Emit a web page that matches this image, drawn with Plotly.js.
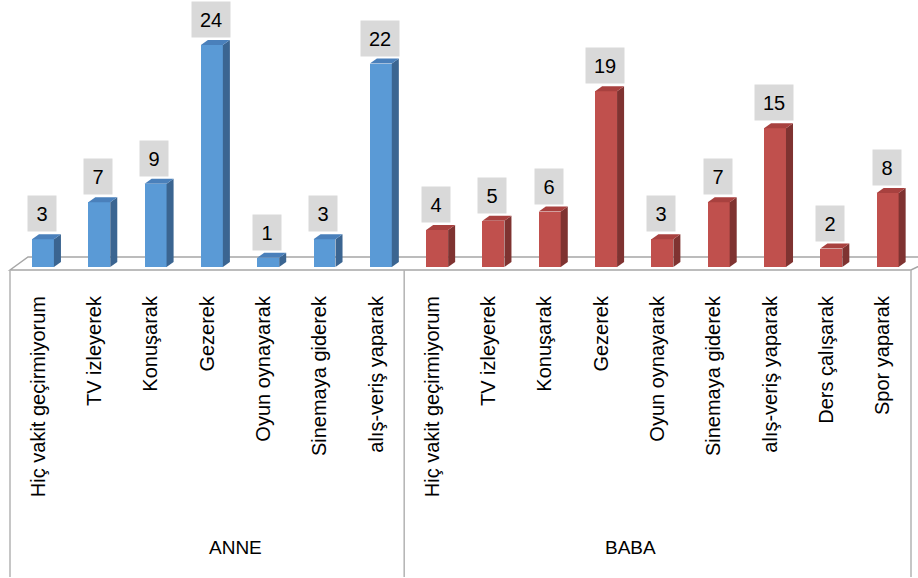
<!DOCTYPE html>
<html>
<head>
<meta charset="utf-8">
<script src="https://cdn.plot.ly/plotly-3.0.1.min.js"></script>
<style>html,body{margin:0;padding:0;background:#fff;}#chart{width:918px;height:578px;}</style>
</head>
<body>
<div id="chart"></div>
<script>
// ---- data ----
const groups = ['ANNE', 'BABA'];
const anneCats = ['Hiç vakit geçirmiyorum', 'TV izleyerek', 'Konuşarak', 'Gezerek', 'Oyun oynayarak', 'Sinemaya giderek', 'alış-veriş yaparak'];
const anneVals = [3, 7, 9, 24, 1, 3, 22];
const babaCats = ['Hiç vakit geçirmiyorum', 'TV izleyerek', 'Konuşarak', 'Gezerek', 'Oyun oynayarak', 'Sinemaya giderek', 'alış-veriş yaparak', 'Ders çalışarak', 'Spor yaparak'];
const babaVals = [4, 5, 6, 19, 3, 7, 15, 2, 8];

// ---- styling ----
const W = 918, H = 578;
const plotH = 267;               // floor line in px from top
const yMax = plotH / 9.25;
const barW = 0.39, barOff = -0.11;
const dx = 0.125, dy = 5 / 9.25;  // 3D depth in data units
const FONT = 'Liberation Sans, Arial, sans-serif';
const colors = {
  ANNE: {front: '#5a9ad6', top: '#4a80bb', side: '#3b6591'},
  BABA: {front: '#c0504d', top: '#a8413f', side: '#7f3331'}
};

const series = [
  {name: groups[0], cats: anneCats, vals: anneVals},
  {name: groups[1], cats: babaCats, vals: babaVals}
];

const traces = [];
const shapes = [];
const annotations = [];
const tickvals = [], ticktext = [];
let idx = 0;
const groupBounds = [];
const pyp = px => (plotH - px) / plotH; // px-from-top -> paper y

// floor
shapes.push({
  type: 'path', xref: 'paper', yref: 'paper', layer: 'below',
  path: `M 0,${pyp(270)} L ${18/901},${pyp(257)} L 1.03,${pyp(257)} L 1.0,${pyp(270)} Z`,
  line: {color: '#a6a6a6', width: 1.5}, fillcolor: '#ffffff'
});

series.forEach(s => {
  const start = idx;
  const xs = s.vals.map((v, i) => start + i);
  s.cats.forEach((c, i) => { tickvals.push(start + i); ticktext.push(c); });
  const col = colors[s.name];
  traces.push({
    type: 'bar', x: xs, y: s.vals, width: barW, offset: barOff,
    marker: {color: col.front, line: {width: 0}}, hoverinfo: 'x+y', showlegend: false
  });
  s.vals.forEach((v, i) => {
    const x0 = xs[i] + barOff, x1 = x0 + barW;
    shapes.push({
      type: 'path', xref: 'x', yref: 'y', layer: 'above', line: {width: 0}, fillcolor: col.side,
      path: `M ${x1},0 L ${x1+dx},${dy} L ${x1+dx},${v+dy} L ${x1},${v} Z`
    });
    shapes.push({
      type: 'path', xref: 'x', yref: 'y', layer: 'above', line: {width: 0}, fillcolor: col.top,
      path: `M ${x0},${v} L ${x0+dx},${v+dy} L ${x1+dx},${v+dy} L ${x1},${v} Z`
    });
    const txt = String(v);
    annotations.push({
      x: x0 + barW/2 - 0.02, y: v + dy, xref: 'x', yref: 'y', yanchor: 'bottom', yshift: 2,
      text: txt, showarrow: false, bgcolor: '#d9d9d9', borderpad: 0,
      width: txt.length > 1 ? 38 : 28, height: 35,
      font: {family: FONT, size: 20, color: '#000'}
    });
  });
  idx += s.vals.length;
  groupBounds.push([start - 0.5, idx - 0.5, s.name]);
});

const total = idx;
// frame lines and group labels
const xp = x => (x + 0.5) / total;
const bounds = [groupBounds[0][0], groupBounds[0][1], groupBounds[1][1]];
bounds.forEach(b => shapes.push({
  type: 'line', xref: 'paper', yref: 'paper', x0: xp(b), x1: xp(b), y0: pyp(270), y1: pyp(577),
  line: {color: '#b3b3b3', width: 1.5}
}));
groupBounds.forEach(g => annotations.push({
  x: xp((g[0] + g[1]) / 2), y: pyp(548), xref: 'paper', yref: 'paper', yshift: -12,
  text: g[2], showarrow: false,
  font: {family: FONT, size: 19, color: '#000'}
}));

const layout = {
  width: W, height: H,
  margin: {l: 10, r: 7, t: 0, b: H - plotH, pad: 0},
  paper_bgcolor: '#fff', plot_bgcolor: 'rgba(0,0,0,0)',
  bargap: 0,
  xaxis: {
    range: [-0.5, total - 0.5], tickvals: tickvals, ticktext: ticktext, tickangle: -90,
    ticks: 'outside', ticklen: 20, tickcolor: 'rgba(0,0,0,0)', showgrid: false, zeroline: false,
    showline: false, fixedrange: true,
    tickfont: {family: FONT, size: 20, color: '#000'}
  },
  yaxis: {range: [0, yMax], visible: false, fixedrange: true},
  shapes: shapes, annotations: annotations, showlegend: false
};

Plotly.newPlot('chart', traces, layout, {displayModeBar: false, staticPlot: true});
</script>
</body>
</html>
